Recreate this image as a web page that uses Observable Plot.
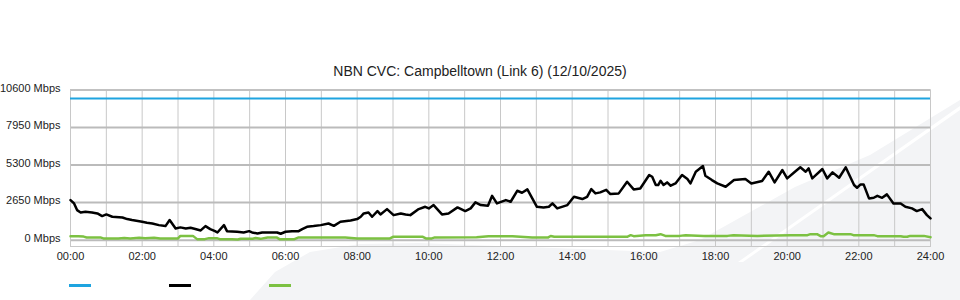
<!DOCTYPE html>
<html>
<head>
<meta charset="utf-8">
<script src="https://cdn.jsdelivr.net/npm/d3@7"></script>
<script src="https://cdn.jsdelivr.net/npm/@observablehq/plot@0.6"></script>
<style>
  html, body { margin: 0; padding: 0; background: #fff; }
  body { width: 960px; height: 300px; position: relative; overflow: hidden; font-family: "Liberation Sans", Arial, sans-serif; }
  #bg { position: absolute; left: 0; top: 0; width: 960px; height: 300px; background: #f3f4f6;
        clip-path: polygon(250px 300px, 275px 272px, 310px 252px, 360px 244px, 420px 243px, 660px 252px, 700px 240px, 795px 187px, 870px 155px, 960px 100px, 960px 300px); }
  #stripe { position: absolute; left: 0; top: 0; width: 960px; height: 300px; background: #fff;
        clip-path: polygon(738px 262px, 960px 106px, 960px 110px, 743px 262px); }
  #title { position: absolute; left: 0; top: 62px; width: 960px; text-align: center; font-size: 14px; line-height: 18px; color: #222; }
  #chart { position: absolute; left: 0; top: 80px; }
  #legend { position: absolute; left: 0; top: 284px; width: 960px; height: 4px; }
  .sw { position: absolute; top: 0; width: 22px; height: 3px; }
</style>
</head>
<body>
<div id="bg"></div>
<div id="stripe"></div>
<div id="title"></div>
<div id="chart"></div>
<div id="legend"></div>
<script>
const titleText = "NBN CVC: Campbelltown (Link 6) (12/10/2025)";
const seriesNames = ["Capacity", "Download", "Upload"];
const seriesColors = ["#1ea4e0", "#000000", "#7cc142"];
const capacityMbps = 10000;

const yTicks = [0, 2650, 5300, 7950, 10600];
const xTickMinutes = [0, 120, 240, 360, 480, 600, 720, 840, 960, 1080, 1200, 1320, 1440];
const xTickLabels = ["00:00","02:00","04:00","06:00","08:00","10:00","12:00","14:00","16:00","18:00","20:00","22:00","24:00"];

// Download (black) – minutes after midnight and Mbps
const downMinutes = [0,6,11,17,25,36,45,53,60,70,87,95,103,120,128,137,148,159,166,176,184,193,201,209,218,226,234,242,246,257,262,279,290,299,304,313,321,346,352,360,371,382,388,396,407,419,432,441,452,469,480,486,491,499,505,514,519,530,541,553,561,569,583,594,600,608,622,633,648,661,670,678,687,699,706,714,729,737,748,756,765,781,792,801,807,815,832,843,857,865,872,879,887,897,904,918,932,943,954,969,974,980,984,988,993,999,1005,1013,1024,1033,1038,1047,1059,1063,1074,1083,1097,1111,1130,1140,1158,1169,1179,1192,1200,1213,1222,1231,1236,1242,1259,1267,1276,1287,1298,1312,1317,1323,1328,1337,1345,1351,1359,1367,1378,1390,1398,1409,1417,1426,1434,1440];
const downMbps = [2830,2590,2120,1955,2000,1955,1885,1700,1815,1650,1600,1485,1415,1295,1225,1175,1060,990,1415,825,900,825,870,780,685,990,780,635,540,1060,635,590,540,635,540,470,540,540,450,590,635,635,780,940,990,1060,1175,1010,1295,1390,1485,1650,1885,1955,1650,2050,1815,2190,1765,1885,1815,1765,2190,2355,2240,2475,1815,1885,2310,2050,2240,2665,2475,2425,3130,2590,2827,2710,3485,3345,3580,2355,2310,2355,2590,2240,2475,3060,2900,3060,3605,3300,3370,3555,3250,3300,4120,3580,3650,4595,4475,3890,3890,4190,3890,4075,3840,4005,4595,4310,4005,4830,5230,4545,4240,4005,3770,4240,4310,4005,4170,4830,4075,4950,4360,4830,5140,4830,5070,4360,5020,4360,4785,4405,5140,3890,3700,3935,3935,2945,2990,3130,2990,3230,2590,2590,2355,2240,2050,2190,1765,1530];

// Upload (green)
const upMinutes = [0,13,22,27,50,55,80,90,100,115,125,140,150,180,184,205,212,225,232,245,250,270,280,285,305,310,318,330,345,350,375,382,430,460,480,535,540,590,595,605,610,680,700,740,773,800,804,810,932,938,943,963,980,988,996,1020,1030,1060,1100,1110,1150,1206,1234,1239,1250,1256,1261,1269,1278,1306,1311,1345,1351,1390,1395,1401,1406,1429,1440];
const upMbps = [280,280,250,190,190,120,120,150,120,165,140,165,120,120,300,300,70,70,140,140,70,70,40,100,100,150,90,190,190,70,70,190,190,190,120,120,235,235,120,120,190,200,280,280,190,190,290,235,235,350,280,350,350,420,300,300,350,300,300,350,300,350,350,420,420,280,280,540,420,420,350,350,280,280,235,235,300,300,210];

const down = downMinutes.map((m, i) => ({m, v: downMbps[i]}));
const up = upMinutes.map((m, i) => ({m, v: upMbps[i]}));
const hourGrid = d3.range(0, 1441, 60);

document.getElementById("title").textContent = titleText;

const chart = Plot.plot({
  width: 960,
  height: 185,
  marginLeft: 70,
  marginRight: 30,
  marginTop: 9.5,
  marginBottom: 19,
  style: {background: "transparent", fontFamily: "'Liberation Sans', Arial, sans-serif", fontSize: "11px", color: "#222"},
  x: {domain: [0, 1440]},
  y: {domain: [-450, 10600]},
  marks: [
    Plot.ruleX(hourGrid, {stroke: "#c8c8c8", strokeWidth: 1}),
    Plot.ruleY(yTicks, {stroke: "#bbbbbb", strokeWidth: 2}),
    Plot.frame({stroke: "#c8c8c8"}),
    Plot.ruleY([capacityMbps], {stroke: seriesColors[0], strokeWidth: 2}),
    Plot.line(down, {x: "m", y: "v", stroke: seriesColors[1], strokeWidth: 2.5, strokeLinejoin: "round"}),
    Plot.line(up, {x: "m", y: "v", stroke: seriesColors[2], strokeWidth: 2.5, strokeLinejoin: "round"}),
    Plot.axisY({ticks: yTicks, tickSize: 0, tickPadding: 10, dy: -2, tickFormat: d => d + " Mbps", label: null, fill: "#222"}),
    Plot.axisX({ticks: xTickMinutes, tickSize: 0, tickPadding: 6, tickFormat: d => xTickLabels[xTickMinutes.indexOf(d)], label: null, fill: "#222"})
  ]
});
document.getElementById("chart").appendChild(chart);

const legend = document.getElementById("legend");
seriesNames.forEach((name, i) => {
  const s = document.createElement("div");
  s.className = "sw";
  s.title = name;
  s.style.left = (69 + i * 100) + "px";
  s.style.background = seriesColors[i];
  legend.appendChild(s);
});
</script>
</body>
</html>
